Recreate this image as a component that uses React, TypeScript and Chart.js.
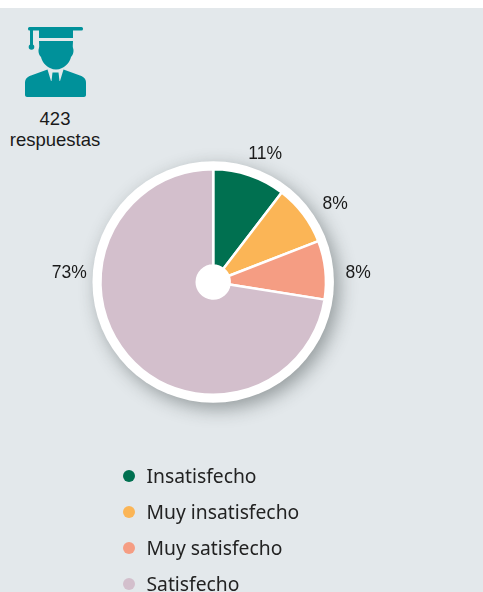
import React, { useEffect, useRef } from "react";
import { Chart, registerables } from "chart.js";

Chart.register(...registerables);

const categories = ["Insatisfecho", "Muy insatisfecho", "Muy satisfecho", "Satisfecho"];
const shares = [10.4, 8.7, 8.4, 72.5];
const shareLabels = ["11%", "8%", "8%", "73%"];
const colors = ["#007050", "#fbb556", "#f59d83", "#d3bfcc"];
const responseCount = "423";
const responseWord = "respuestas";

// label offsets from the pie centre, in px
const labelOffsetX = [52, 122, 145, -144];
const labelOffsetY = [-128, -78, -9, -9];

const ringPlugin = {
  id: "ring",
  beforeDatasetsDraw(chart: any) {
    const arc = chart.getDatasetMeta(0).data[0];
    if (!arc) return;
    const { x, y, outerRadius } = arc;
    const ctx = chart.ctx;
    ctx.save();
    ctx.shadowColor = "rgba(40,50,50,0.42)";
    ctx.shadowBlur = 18;
    ctx.shadowOffsetX = 5;
    ctx.shadowOffsetY = 6;
    ctx.fillStyle = "#ffffff";
    ctx.beginPath();
    ctx.arc(x, y, outerRadius + 8, 0, Math.PI * 2);
    ctx.fill();
    ctx.restore();
  },
};

const labelPlugin = {
  id: "sliceLabels",
  afterDatasetsDraw(chart: any) {
    const arc = chart.getDatasetMeta(0).data[0];
    if (!arc) return;
    const ctx = chart.ctx;
    ctx.save();
    ctx.fillStyle = "#1a1a1a";
    ctx.font = "17.5px 'Liberation Sans'";
    ctx.textAlign = "center";
    ctx.textBaseline = "middle";
    shareLabels.forEach((t, i) => {
      ctx.fillText(t, arc.x + labelOffsetX[i], arc.y + labelOffsetY[i]);
    });
    ctx.restore();
  },
};

export default function App() {
  const ref = useRef<HTMLCanvasElement>(null);
  useEffect(() => {
    document.body.style.margin = "0";
    document.body.style.background = "#ffffff";
    const chart = new Chart(ref.current!, {
      type: "doughnut",
      data: {
        labels: categories,
        datasets: [
          {
            data: shares,
            backgroundColor: colors,
            borderColor: "#ffffff",
            borderWidth: 2.5,
            borderAlign: "center",
          } as any,
        ],
      },
      options: {
        responsive: false,
        animation: false,
        cutout: "14.6%",
        layout: { padding: { left: 99.2, right: 155.8, top: 160, bottom: 196 } },
        plugins: { legend: { display: false }, tooltip: { enabled: false } },
      },
      plugins: [ringPlugin, labelPlugin],
    } as any);
    return () => chart.destroy();
  }, []);

  return (
    <div style={{ position: "absolute", left: 0, top: 8, width: 483, height: 584, background: "#e3e8eb", overflow: "hidden" }}>
      <svg width="120" height="110" viewBox="0 8 120 110" style={{ position: "absolute", left: 0, top: 0 }} fill="#00919a">
        <rect x="28" y="27" width="55" height="3.5" rx="1.5" />
        <rect x="30" y="27" width="3" height="20" />
        <circle cx="31.5" cy="47" r="2.8" />
        <rect x="39" y="30" width="34" height="8" />
        <path d="M39 41 H73 C73 44 72.5 46 73 48 C74 50 73.5 55 71 57 C70 62 66 66 62 68 C58 70 54 70 50 68 C46 66 42 62 41 57 C38.5 55 38 50 39 48 C39.5 46 39 44 39 41 Z" />
        <path d="M25 95 V83 C25 79 27 77 31 75.5 L47.5 69.5 L51 81 H60 L63.5 69.5 L80 75.5 C84 77 86 79 86 83 V95 C86 96 85 97 84 97 H27 C26 97 25 96 25 95 Z" />
        <path d="M52.5 72.5 H58.5 L59.5 81 H51.5 Z" />
      </svg>
      <div style={{ position: "absolute", left: 0, top: 100, width: 110, textAlign: "center", font: "18.5px/21px 'Liberation Sans'", color: "#1a1a1a" }}>
        <div>{responseCount}</div>
        <div>{responseWord}</div>
      </div>
      <canvas ref={ref} width={483} height={584} style={{ position: "absolute", left: 0, top: 0, display: "block" }} />
      <div style={{ position: "absolute", left: 123, top: 450, font: "19.3px/36px 'Noto Sans'", color: "#222222" }}>
        {categories.map((c, i) => (
          <div key={c} style={{ display: "flex", alignItems: "center", height: 36, whiteSpace: "nowrap" }}>
            <span style={{ display: "inline-block", width: 12, height: 12, borderRadius: "50%", background: colors[i], marginRight: 11.5 }} />
            {c}
          </div>
        ))}
      </div>
    </div>
  );
}
